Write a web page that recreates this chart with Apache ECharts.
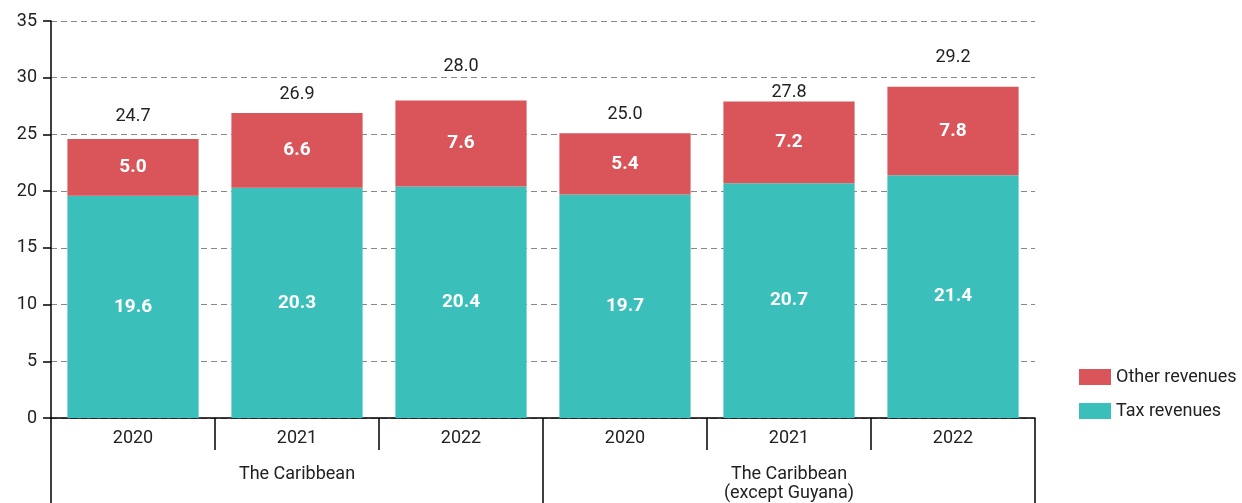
<!DOCTYPE html>
<html>
<head>
<meta charset="utf-8">
<script src="https://cdn.jsdelivr.net/npm/echarts@6/dist/echarts.min.js"></script>
<style>
  html, body { margin: 0; padding: 0; background: #fff; }
  #chart { width: 1242px; height: 503px; }
</style>
</head>
<body>
<div id="chart"></div>
<script>
const years = ['2020', '2021', '2022', '2020', '2021', '2022'];
const groups = ['The Caribbean', 'The Caribbean\n(except Guyana)'];
const taxRevenues = [19.6, 20.3, 20.4, 19.7, 20.7, 21.4];
const otherRevenues = [5.0, 6.6, 7.6, 5.4, 7.2, 7.8];
const totals = [24.7, 26.9, 28.0, 25.0, 27.8, 29.2];

// total labels sit at different heights in the original (they dodge the gridlines)
const totalLabelLift = [13, 9, 25, 10, 0, 20];

const FONT = '"Roboto", sans-serif';
const RED = '#d9555a';
const TEAL = '#3bbfba';

const chart = echarts.init(document.getElementById('chart'), null, { renderer: 'canvas' });

chart.setOption({
  animation: false,
  textStyle: { fontFamily: FONT },
  grid: { left: 51, right: 207, top: 21, bottom: 85 },
  legend: {
    orient: 'vertical',
    left: 1074,
    top: 363,
    itemWidth: 32,
    itemHeight: 16,
    itemGap: 16,
    icon: 'rect',
    data: ['Other revenues', 'Tax revenues'],
    textStyle: { fontFamily: FONT, fontSize: 18, color: '#222' }
  },
  xAxis: [
    {
      type: 'category',
      data: years,
      position: 'bottom',
      axisLine: { lineStyle: { color: '#000', width: 1.5 } },
      axisTick: { show: true, length: 32, lineStyle: { color: '#000', width: 1.5 } },
      axisLabel: { fontFamily: FONT, fontSize: 18, color: '#222', margin: 11 }
    },
    {
      type: 'category',
      data: groups,
      position: 'bottom',
      axisLine: { show: false },
      axisTick: { show: true, length: 90, lineStyle: { color: '#000', width: 1.5 } },
      axisLabel: { fontFamily: FONT, fontSize: 18, color: '#222', margin: 47, lineHeight: 19 }
    }
  ],
  yAxis: {
    type: 'value',
    min: 0,
    max: 35,
    interval: 5,
    axisLine: { show: true, lineStyle: { color: '#000', width: 1.5 } },
    axisTick: { show: true, length: 8, lineStyle: { color: '#000', width: 1.5 } },
    axisLabel: { fontFamily: FONT, fontSize: 18, color: '#222', margin: 14 },
    splitLine: { lineStyle: { color: '#888', type: [6, 4], width: 1 } }
  },
  series: [
    {
      name: 'Tax revenues',
      type: 'bar',
      stack: 'rev',
      data: taxRevenues,
      barCategoryGap: '20%',
      itemStyle: { color: TEAL },
      label: {
        show: true, position: 'inside', color: '#fff', fontWeight: 'bold',
        fontFamily: FONT, fontSize: 19, formatter: p => p.value.toFixed(1)
      }
    },
    {
      name: 'Other revenues',
      type: 'bar',
      stack: 'rev',
      data: otherRevenues,
      itemStyle: { color: RED },
      label: {
        show: true, position: 'inside', color: '#fff', fontWeight: 'bold',
        fontFamily: FONT, fontSize: 19, formatter: p => p.value.toFixed(1)
      }
    },
    {
      name: 'Total',
      type: 'bar',
      stack: 'rev',
      data: totals.map((t, i) => ({ value: 0, label: { distance: totalLabelLift[i] } })),
      itemStyle: { color: 'transparent' },
      label: {
        show: true, position: 'top', color: '#222',
        fontFamily: FONT, fontSize: 18,
        formatter: p => totals[p.dataIndex].toFixed(1)
      }
    }
  ]
});
</script>
</body>
</html>
